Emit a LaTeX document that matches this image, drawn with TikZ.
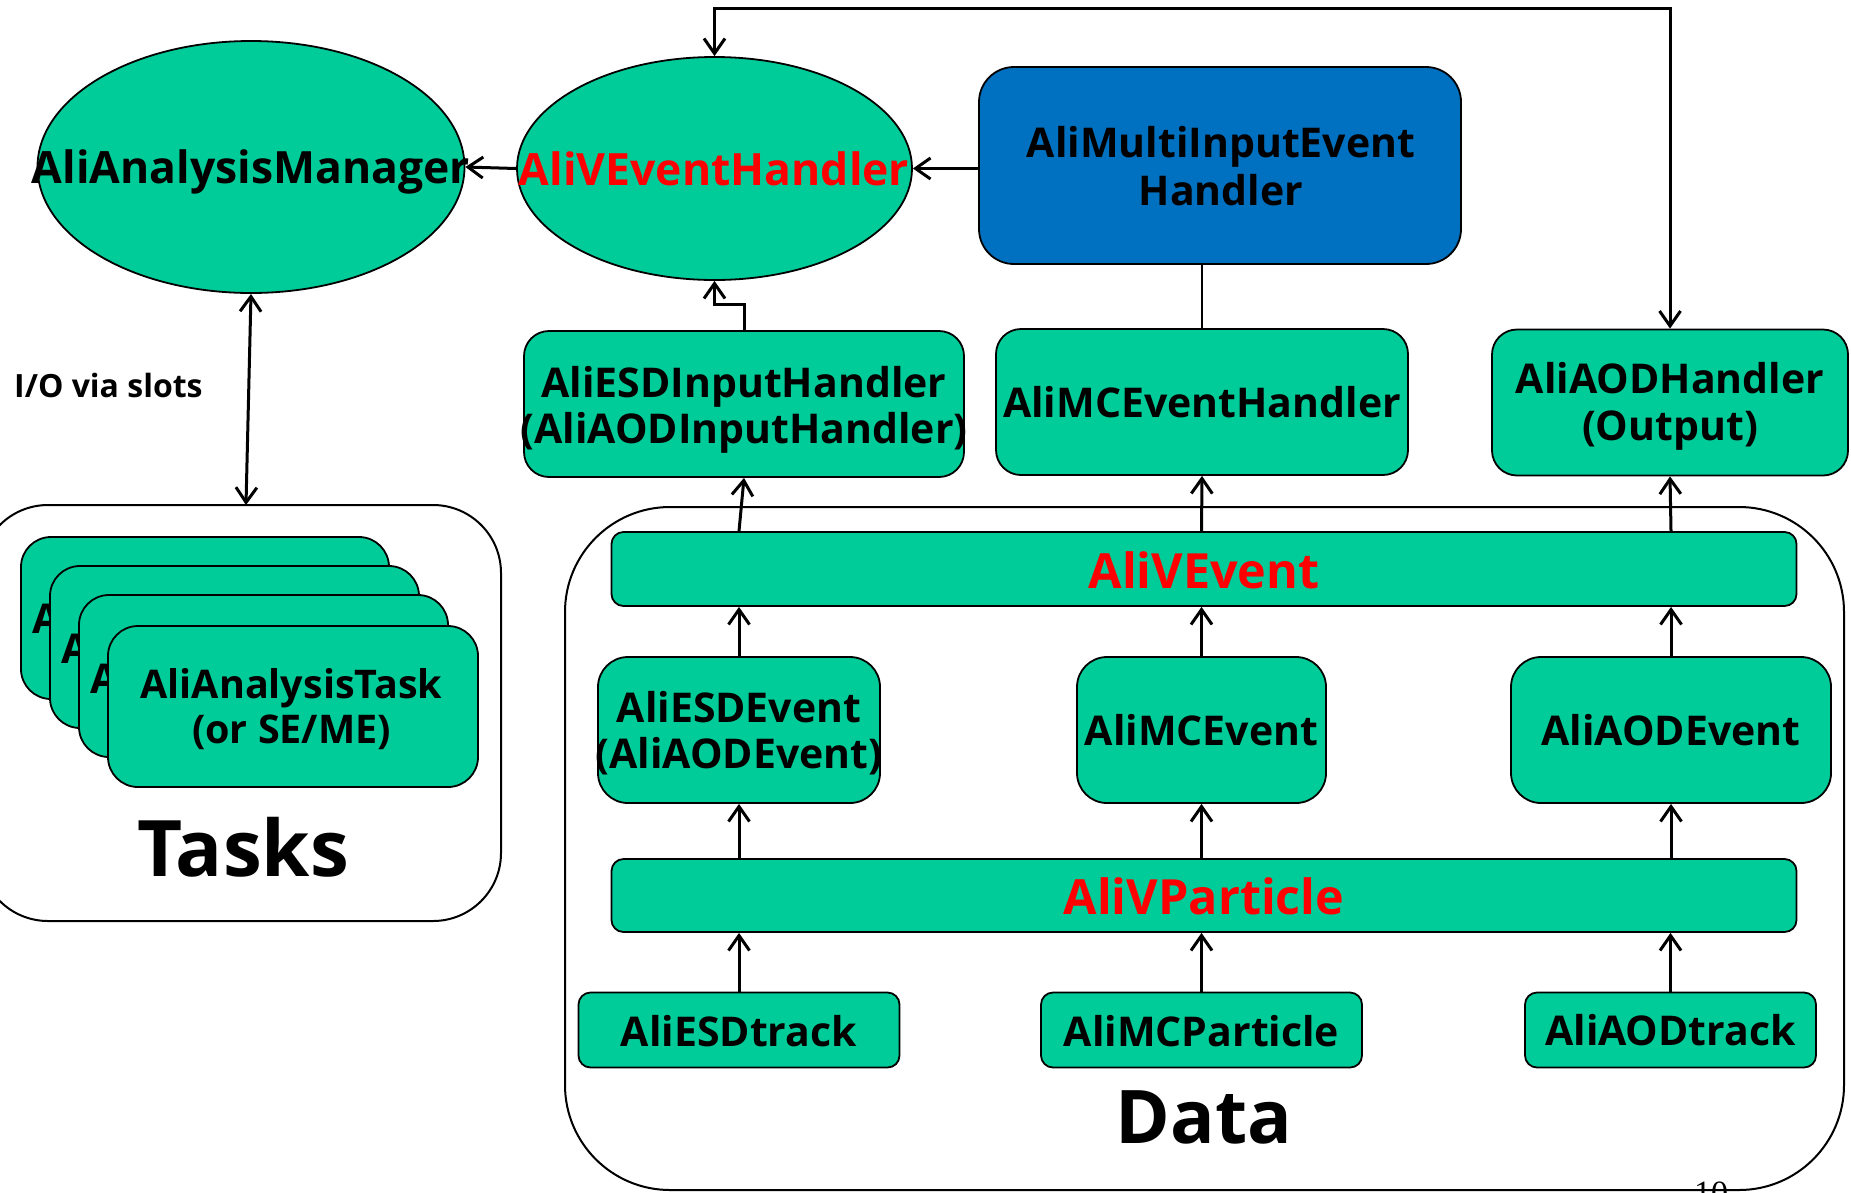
\documentclass[tikz,border=0pt]{standalone}
\usepackage{fontspec}
\setmainfont{Open Sans}
\newfontfamily\pagenumfont{Liberation Serif}
\usetikzlibrary{shapes.geometric,arrows.meta}
\definecolor{grn}{RGB}{0,204,153}
\definecolor{blu}{RGB}{0,112,192}
\definecolor{rd}{RGB}{255,0,0}
\begin{document}
\begin{tikzpicture}[x=1pt,y=-1pt,
  ell/.style={ellipse, draw=black, line width=1.8pt, fill=grn, inner sep=0pt},
  gbox/.style={rectangle, draw=black, line width=1.8pt, fill=grn, inner sep=0pt, rounded corners=25pt},
  bbox/.style={rectangle, draw=black, line width=1.8pt, fill=blu, inner sep=0pt, rounded corners=35pt},
  frame/.style={rectangle, draw=black, line width=2pt, inner sep=0pt},
  etxt/.style={font=\fontsize{44.5}{50}\selectfont\bfseries, inner sep=0pt, anchor=base},
  btxt/.style={font=\fontsize{41}{47}\selectfont\bfseries, inner sep=0pt, anchor=base},
  vtxt/.style={font=\fontsize{48.5}{54}\selectfont\bfseries, text=rd, inner sep=0pt, anchor=base},
  ttxt/.style={font=\fontsize{39.5}{45}\selectfont\bfseries, inner sep=0pt, anchor=base},
  conn/.style={line width=3pt},
  arr/.style={conn, -{Straight Barb[length=15pt,width=21pt]}},
  dblarr/.style={conn, {Straight Barb[length=15pt,width=21pt]}-{Straight Barb[length=15pt,width=21pt]}}
]
\useasboundingbox (0,0) rectangle (1851,1192);

% containers
\node[frame, rounded corners=68pt, minimum width=521pt, minimum height=416pt] (tasks) at (240.5,713) {};
\node[frame, rounded corners=105pt, minimum width=1279pt, minimum height=683pt] (data) at (1204.5,848.5) {};

% top row
\node[ell, minimum width=427pt, minimum height=252pt] (am) at (251,167) {};
\node[etxt] (amt) at (251,183) {AliAnalysisManager};
\node[ell, minimum width=395pt, minimum height=223pt] (veh) at (714.5,168.5) {};
\node[etxt, text=rd] (veht) at (714,185) {AliVEventHandler};
\node[bbox, minimum width=482pt, minimum height=197pt] (mih) at (1220,165.5) {};
\node[btxt] (miht1) at (1221,157) {AliMultiInputEvent};
\node[btxt] (miht2) at (1221,205) {Handler};

% handler row
\node[gbox, minimum width=440pt, minimum height=146pt] (esdih) at (744,404) {};
\node[btxt] (esdiht1) at (744,397) {AliESDInputHandler};
\node[btxt] (esdiht2) at (744,443) {(AliAODInputHandler)};
\node[gbox, minimum width=412pt, minimum height=146pt] (mch) at (1202,402) {};
\node[btxt] (mcht) at (1202,417) {AliMCEventHandler};
\node[gbox, minimum width=356pt, minimum height=146pt] (aodh) at (1670,402.5) {};
\node[btxt] (aodht1) at (1670,393) {AliAODHandler};
\node[btxt] (aodht2) at (1670,440) {(Output)};

\node[font=\fontsize{32}{36}\selectfont\bfseries, inner sep=0pt, anchor=base west] (io) at (14,397) {I/O via slots};

% tasks stack
\node[gbox, rounded corners=30pt, minimum width=368pt, minimum height=162pt] (t1) at (205,618) {};
\node[btxt, anchor=base west] (t1t) at (32,633) {A};
\node[gbox, rounded corners=30pt, minimum width=369pt, minimum height=162pt] (t2) at (234.5,647) {};
\node[btxt, anchor=base west] (t2t) at (61,663) {A};
\node[gbox, rounded corners=30pt, minimum width=369pt, minimum height=162pt] (t3) at (263.5,676) {};
\node[btxt, anchor=base west] (t3t) at (90,693) {A};
\node[gbox, rounded corners=30pt, minimum width=370pt, minimum height=161pt] (t4) at (293,706.5) {};
\node[ttxt] (t4t1) at (291.5,698) {AliAnalysisTask};
\node[ttxt] (t4t2) at (291.5,743) {(or SE/ME)};
\node[font=\fontsize{78}{84}\selectfont\bfseries, inner sep=0pt, anchor=base] (taskslbl) at (243,876) {Tasks};

% data
\node[gbox, rounded corners=12pt, minimum width=1185pt, minimum height=74pt] (vev) at (1204,569) {};
\node[vtxt] (vevt) at (1204,588) {AliVEvent};
\node[gbox, rounded corners=30pt, minimum width=282pt, minimum height=146pt] (esdev) at (739,730) {};
\node[btxt] (esdevt1) at (739,722) {AliESDEvent};
\node[btxt] (esdevt2) at (739,768) {(AliAODEvent)};
\node[gbox, rounded corners=30pt, minimum width=249pt, minimum height=146pt] (mcev) at (1201.5,730) {};
\node[btxt] (mcevt) at (1201.5,745) {AliMCEvent};
\node[gbox, rounded corners=30pt, minimum width=320pt, minimum height=146pt] (aodev) at (1671,730) {};
\node[btxt] (aodevt) at (1671,745) {AliAODEvent};
\node[gbox, rounded corners=12pt, minimum width=1185pt, minimum height=73pt] (vpart) at (1204,895.5) {};
\node[vtxt] (vpartt) at (1204,914) {AliVParticle};
\node[gbox, rounded corners=12pt, minimum width=321pt, minimum height=75pt] (esdtr) at (739,1030) {};
\node[btxt] (esdtrt) at (739,1046) {AliESDtrack};
\node[gbox, rounded corners=12pt, minimum width=321pt, minimum height=75pt] (mcp) at (1201.5,1030) {};
\node[btxt] (mcpt) at (1201.5,1046) {AliMCParticle};
\node[gbox, rounded corners=12pt, minimum width=291pt, minimum height=75pt] (aodtr) at (1670.5,1030) {};
\node[btxt] (aodtrt) at (1670.5,1045) {AliAODtrack};
\node[font=\fontsize{74}{80}\selectfont\bfseries, inner sep=0pt, anchor=base] (datalbl) at (1204,1143) {Data};

\node[font=\fontsize{34}{38}\selectfont\pagenumfont, inner sep=0pt, anchor=north west] (pnum) at (1694,1182) {10};

% connectors, top
\draw[arr] (veh.west) -- (am.east);
\draw[arr] (veh.east -| mih.west) -- (veh.east);
\draw[arr] (esdih.north) -- ++(0,-26) -| (veh.south);
\draw[line width=2.8pt] (mch.north) -- (mch.north |- mih.south);
\draw[dblarr] (veh.north) -- ++(0,-48) -| (aodh.north);
\coordinate (tk) at (246,505);
\draw[dblarr] (am.south) -- (tk);

% connectors, data
\draw[arr] (esdtr.north) -- (esdtr.north |- vpart.south);
\draw[arr] (vpart.north -| esdev) -- (esdev.south);
\draw[arr] (esdev.north) -- (esdev.north |- vev.south);
\draw[arr] (vev.north -| esdev) -- (esdih.south);
\draw[arr] (mcp.north) -- (mcp.north |- vpart.south);
\draw[arr] (vpart.north -| mcev) -- (mcev.south);
\draw[arr] (mcev.north) -- (mcev.north |- vev.south);
\draw[arr] (vev.north -| mcev) -- (mch.south);
\draw[arr] (aodtr.north) -- (aodtr.north |- vpart.south);
\draw[arr] (vpart.north -| aodev) -- (aodev.south);
\draw[arr] (aodev.north) -- (aodev.north |- vev.south);
\draw[arr] (vev.north -| aodev) -- (aodh.south);
\end{tikzpicture}
\end{document}
